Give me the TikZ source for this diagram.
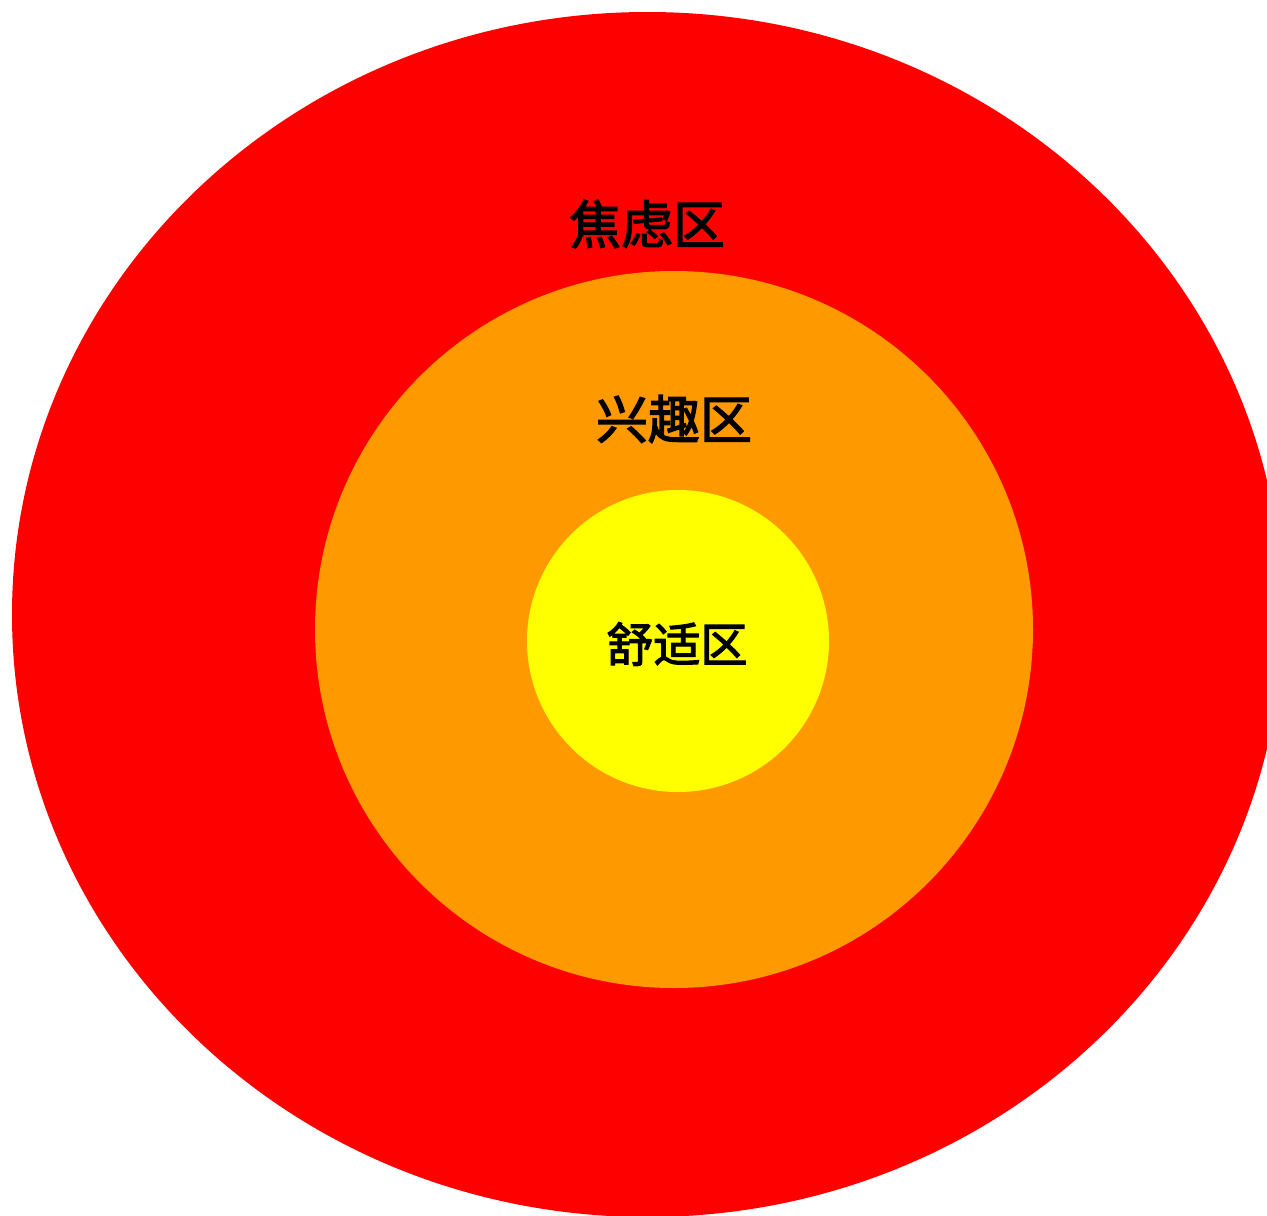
\documentclass[tikz,border=0pt]{standalone}
\usepackage{fontspec}
\newfontfamily\cjk{Noto Sans CJK SC}[FakeBold=2.5]
\definecolor{zred}{HTML}{FF0000}
\definecolor{zorange}{HTML}{FF9900}
\definecolor{zyellow}{HTML}{FFFF00}
\begin{document}
\begin{tikzpicture}[x=1pt,y=-1pt,
  zlabel/.style={font=\cjk\fontsize{52}{62}\selectfont, inner sep=0pt, text=black},
  zsmall/.style={font=\cjk\fontsize{47}{56}\selectfont, inner sep=0pt, text=black}]
\useasboundingbox (0,0) rectangle (1267,1216);
\clip (0,0) rectangle (1267,1216);
\fill[zred] (647.4,614.5) ellipse [x radius=635.4, y radius=602.5];
\fill[zorange] (674,629.5) ellipse [x radius=359, y radius=358.5];
\fill[zyellow] (678,641) circle [radius=151];
\node[zlabel] (anx) at (647,224) {焦虑区};
\node[zlabel] (int) at (674,419) {兴趣区};
\node[zsmall] (com) at (677,644) {舒适区};
\end{tikzpicture}
\end{document}
